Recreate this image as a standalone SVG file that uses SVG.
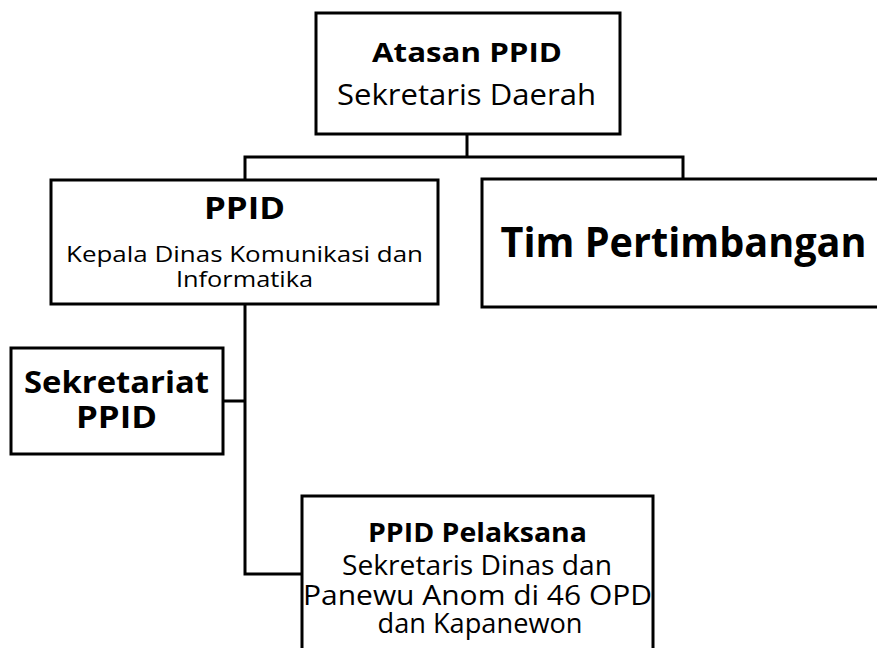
<svg xmlns="http://www.w3.org/2000/svg" width="877" height="648" viewBox="0 0 877 648">
<style>
.box{fill:#fff;stroke:#000;stroke-width:3}
.con{fill:none;stroke:#000;stroke-width:3}
text{font-family:"Open Sans","DejaVu Sans",sans-serif;fill:#000;text-anchor:middle}
.b{font-weight:bold}
</style>
<rect width="877" height="648" fill="#fff"/>
<g id="connectors">
<path class="con" d="M467,134 V157 M245,180 V157 H683 V179"/>
<path class="con" d="M245,304 V574 H302 M223,401 H245"/>
</g>
<g id="atasan">
<rect class="box" x="316" y="13" width="304" height="121"/>
<text class="b" x="467" y="62" font-size="27" textLength="190" lengthAdjust="spacingAndGlyphs">Atasan PPID</text>
<text x="466.5" y="105" font-size="29" textLength="259" lengthAdjust="spacingAndGlyphs">Sekretaris Daerah</text>
</g>
<g id="ppid">
<rect class="box" x="51" y="180" width="387" height="124"/>
<text class="b" x="244.5" y="219" font-size="30" textLength="81" lengthAdjust="spacingAndGlyphs">PPID</text>
<text x="244.5" y="262" font-size="21" textLength="357" lengthAdjust="spacingAndGlyphs">Kepala Dinas Komunikasi dan</text>
<text x="244.5" y="287" font-size="21" textLength="137" lengthAdjust="spacingAndGlyphs">Informatika</text>
</g>
<g id="tim">
<rect class="box" x="482" y="179" width="410" height="128"/>
<text class="b" x="683.5" y="257" font-size="41" textLength="366" lengthAdjust="spacingAndGlyphs">Tim Pertimbangan</text>
</g>
<g id="sekretariat">
<rect class="box" x="11" y="348" width="212" height="106"/>
<text class="b" x="116.5" y="393" font-size="30" textLength="185" lengthAdjust="spacingAndGlyphs">Sekretariat</text>
<text class="b" x="116.5" y="428" font-size="30" textLength="81" lengthAdjust="spacingAndGlyphs">PPID</text>
</g>
<g id="pelaksana">
<rect class="box" x="302" y="496" width="351" height="170"/>
<text class="b" x="477.5" y="542" font-size="27" textLength="219" lengthAdjust="spacingAndGlyphs">PPID Pelaksana</text>
<text x="477" y="575" font-size="27" textLength="270" lengthAdjust="spacingAndGlyphs">Sekretaris Dinas dan</text>
<text x="477.5" y="605" font-size="27" textLength="349" lengthAdjust="spacingAndGlyphs">Panewu Anom di 46 OPD</text>
<text x="480" y="633" font-size="27" textLength="205" lengthAdjust="spacingAndGlyphs">dan Kapanewon</text>
</g>
</svg>
